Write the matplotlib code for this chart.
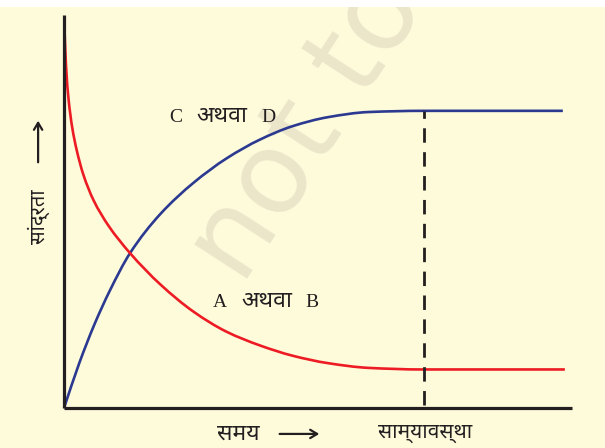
import matplotlib
matplotlib.use("Agg")
import matplotlib.pyplot as plt
from matplotlib.path import Path
from matplotlib.patches import PathPatch

# ---- data (time and concentration in arbitrary units, 0..100) ----
t_product = [0, 3, 6, 9, 13, 19, 25.5, 32, 38.6, 45, 52, 60, 70.7, 98.2]
c_product = [0, 11.4, 21.3, 29.8, 39.4, 49.4, 57.3, 63.5, 68.3, 71.7, 74.0, 75.3,
             75.6, 75.6]
t_reactant = [0.1, 0.4, 0.9, 1.6, 2.5, 3.8, 5.8, 8.8, 13, 19, 25.5, 32, 38.6, 45,
              52, 60, 70.7, 98.6]
c_reactant = [96.2, 87.0, 78.5, 71.5, 65.6, 59.4, 52.9, 46.3, 39.4, 31.4, 24.5,
              19.4, 15.9, 13.3, 11.4, 10.2, 9.8, 9.8]
t_equilibrium = 70.9
c_equilibrium_top = 75.6

word_or = "अथवा"
product_names = ["C", "D"]
reactant_names = ["A", "B"]
xlabel_left = "समय"
xlabel_right = "साम्यावस्था"
ylabel = "सांद्रता"
watermark = "not to"

BG = "#FEFBDB"
AX = "#231F20"
BLUE = "#2B3990"
RED = "#ED1C24"
TC = "#231F20"
LATIN = ["Liberation Serif", "DejaVu Serif"]
DEVA = ["Noto Sans Devanagari", "FreeSerif"]


def smooth_path(xs, ys):
    """Monotone cubic (PCHIP) through the read points, as a Bezier path."""
    n = len(xs)
    h = [xs[i + 1] - xs[i] for i in range(n - 1)]
    d = [(ys[i + 1] - ys[i]) / h[i] for i in range(n - 1)]
    m = [0.0] * n
    m[0] = d[0]
    m[-1] = d[-1]
    for k in range(1, n - 1):
        if d[k - 1] * d[k] <= 0:
            m[k] = 0.0
        else:
            w1 = 2 * h[k] + h[k - 1]
            w2 = h[k] + 2 * h[k - 1]
            m[k] = (w1 + w2) / (w1 / d[k - 1] + w2 / d[k])
    verts = [(xs[0], ys[0])]
    codes = [Path.MOVETO]
    for i in range(n - 1):
        c1 = (xs[i] + h[i] / 3, ys[i] + m[i] * h[i] / 3)
        c2 = (xs[i + 1] - h[i] / 3, ys[i + 1] - m[i + 1] * h[i] / 3)
        verts += [c1, c2, (xs[i + 1], ys[i + 1])]
        codes += [Path.CURVE4] * 3
    return Path(verts, codes)


fig = plt.figure(figsize=(6.05, 4.48), dpi=100, facecolor=BG)
ax = fig.add_axes([0, 0, 1, 1])
ax.set_facecolor(BG)
ax.set_xlim(-12.6, 106.5)
ax.set_ylim(-10.18, 103.8)
ax.axis("off")

# white strip at the very top of the image
fig.patches.append(plt.Rectangle((0, 1 - 7 / 448), 1, 7 / 448, transform=fig.transFigure,
                                 facecolor="white", edgecolor="none", zorder=0))

# watermark
ax.text(39.0, 27.5, watermark, fontsize=82, color="#EBE5CA",
        rotation=57, ha="left", va="bottom", family="DejaVu Sans", zorder=0.5,
        rotation_mode="anchor")

# axes lines
ax.plot([0, 0], [0, 100], color=AX, lw=2.3, solid_capstyle="butt", zorder=3)
ax.plot([0, 100], [0, 0], color=AX, lw=2.3, solid_capstyle="butt", zorder=3)

# curves
ax.add_patch(PathPatch(smooth_path(t_product, c_product), facecolor="none",
                       edgecolor=BLUE, lw=1.9, zorder=2))
ax.add_patch(PathPatch(smooth_path(t_reactant, c_reactant), facecolor="none",
                       edgecolor=RED, lw=1.9, zorder=2))

# equilibrium dashed line
ax.plot([t_equilibrium, t_equilibrium], [0.8, c_equilibrium_top], color=AX, lw=2.0,
        dashes=(5.2, 3.4), zorder=2)

# curve labels
ax.text(21.9, 73.9, product_names[0], fontsize=14, family=LATIN, color=TC,
        ha="center", va="center")
ax.text(31.1, 74.3, word_or, fontsize=16.5, family=DEVA, color=TC,
        ha="center", va="center")
ax.text(40.2, 73.9, product_names[1], fontsize=14, family=LATIN, color=TC,
        ha="center", va="center")
ax.text(30.7, 26.8, reactant_names[0], fontsize=14, family=LATIN, color=TC,
        ha="center", va="center")
ax.text(40.0, 27.2, word_or, fontsize=16.5, family=DEVA, color=TC,
        ha="center", va="center")
ax.text(48.9, 26.8, reactant_names[1], fontsize=14, family=LATIN, color=TC,
        ha="center", va="center")

# axis labels
ax.text(34.4, -6.5, xlabel_left, fontsize=16.5, family=DEVA, color=TC,
        ha="center", va="center")
ax.text(71.1, -6.2, xlabel_right, fontsize=15, family=DEVA, color=TC,
        ha="center", va="center")
ax.text(-4.9, 48.6, ylabel, fontsize=14.5, family=DEVA, color=TC,
        ha="center", va="center", rotation=90)

ax.annotate("", xy=(50.8, -6.6), xytext=(41.9, -6.6),
            arrowprops=dict(arrowstyle="->,head_length=0.5,head_width=0.3",
                            lw=1.6, color=AX))
ax.annotate("", xy=(-5.1, 73.8), xytext=(-5.1, 61.8),
            arrowprops=dict(arrowstyle="->,head_length=0.5,head_width=0.3",
                            lw=1.6, color=AX))

fig.savefig("out.png", dpi=100, facecolor=BG)
